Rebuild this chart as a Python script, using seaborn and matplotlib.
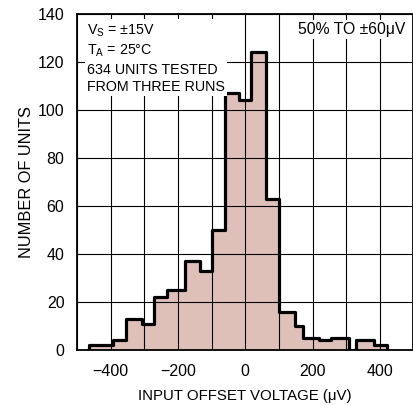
import numpy as np
import pandas as pd
import matplotlib
matplotlib.use("Agg")
import matplotlib.pyplot as plt
import seaborn as sns

# bin edges (uV) and unit counts
bin_edges = [-465, -394, -354, -306, -270, -233, -179, -135, -100, -59, -19,
             18, 62, 99, 149, 173, 220, 254, 308, 328, 382, 421]
unit_counts = [2, 4, 13, 11, 22, 25, 37, 33, 50, 107, 104,
               124, 63, 16, 10, 5, 4, 5, 0, 4, 2]
x_ticks = [-400, -200, 0, 200, 400]
y_ticks = [0, 20, 40, 60, 80, 100, 120, 140]

FILL = "#dfc0b9"

sns.set_style("white")
plt.rcParams["font.family"] = ["Liberation Sans", "DejaVu Sans"]
plt.rcParams["font.size"] = 11.5
for k in ["text.color", "axes.labelcolor", "xtick.color", "ytick.color"]:
    plt.rcParams[k] = "black"

centers = [(a + b) / 2 for a, b in zip(bin_edges[:-1], bin_edges[1:])]
df = pd.DataFrame({"offset": centers, "units": unit_counts})
# empty bins at both ends so the outline drops back to zero
pad_edges = [bin_edges[0] - 1] + bin_edges + [bin_edges[-1] + 1]

fig = plt.figure(figsize=(4.14, 4.05), dpi=100)
ax = fig.add_axes([77 / 414, 55 / 405, 336.5 / 414, 336 / 405])

sns.histplot(data=df, x="offset", weights="units", bins=list(bin_edges), element="step",
             fill=True, color=FILL, alpha=1, linewidth=0, ax=ax, zorder=1)
sns.histplot(data=df, x="offset", weights="units", bins=pad_edges, element="step",
             fill=False, color="black", linewidth=2.3, ax=ax, zorder=3)

ax.set_xlim(-500, 500)
ax.set_ylim(0, 140)
ax.set_xticks(x_ticks)
ax.set_xticks(np.arange(-500, 501, 100), minor=True)
ax.set_yticks(y_ticks)
ax.set_axisbelow(False)
ax.grid(True, which="both", color="black", linewidth=0.8)
ax.tick_params(which="both", length=0, labelsize=11.5)
ax.tick_params(axis="x", pad=10)
ax.tick_params(axis="y", pad=9)
for s in ax.spines.values():
    s.set_color("black")
    s.set_linewidth(1.3)
    s.set_zorder(4)

ax.set_xlabel("INPUT OFFSET VOLTAGE (\u03bcV)", fontsize=10.8, labelpad=7)
ax.set_ylabel("NUMBER OF UNITS", fontsize=11.8, labelpad=3)

box = dict(facecolor="white", edgecolor="none", pad=1.5)
ax.text(0.029, 0.975,
        "V$_\\mathregular{S}$ = \u00b115V\nT$_\\mathregular{A}$ = 25\u00b0C\n634 UNITS TESTED\nFROM THREE RUNS",
        transform=ax.transAxes, ha="left", va="top", fontsize=10.3, linespacing=1.32,
        bbox=box, zorder=5)
ax.text(0.975, 0.975, "50% TO \u00b160\u03bcV", transform=ax.transAxes,
        ha="right", va="top", fontsize=11.3, bbox=box, zorder=5)

fig.savefig("out.png", dpi=100)
